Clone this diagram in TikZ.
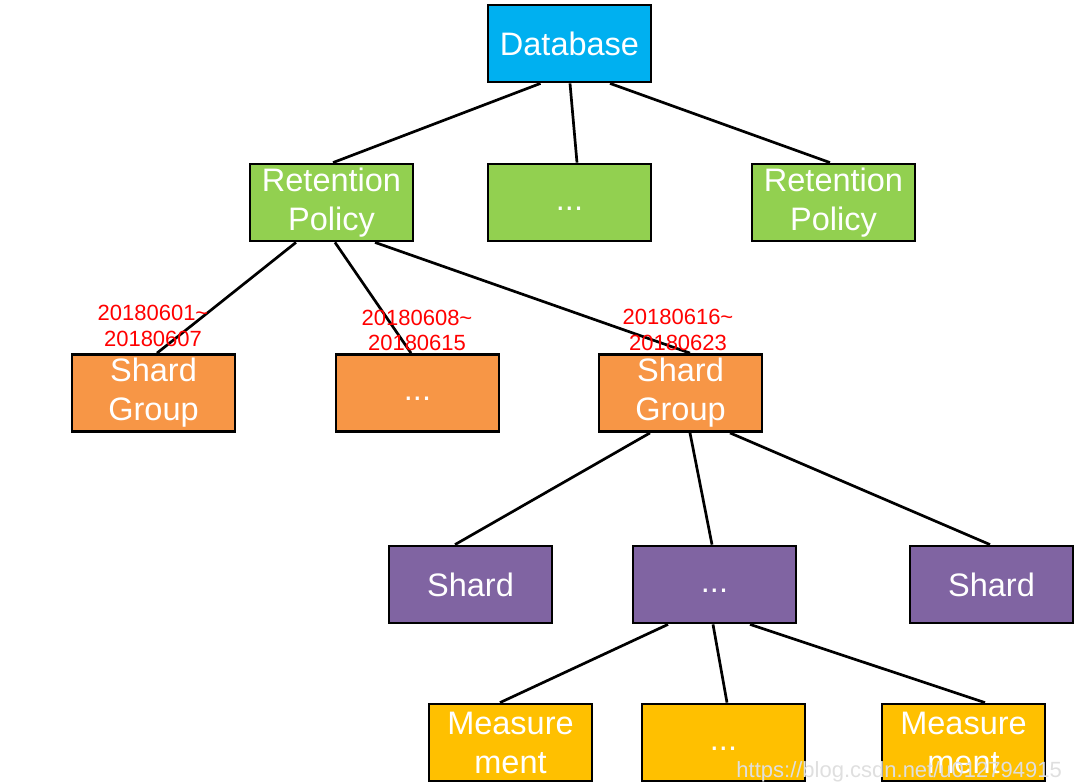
\documentclass[tikz,border=0pt]{standalone}
\usepackage{fontspec}
\setmainfont{Liberation Sans}
\usetikzlibrary{calc}
\definecolor{cdb}{HTML}{00B0F0}
\definecolor{cgreen}{HTML}{92D050}
\definecolor{corange}{HTML}{F79646}
\definecolor{cpurple}{HTML}{8064A2}
\definecolor{cyellow}{HTML}{FFC000}
\begin{document}
\begin{tikzpicture}[x=1pt,y=-1pt,
  box/.style={draw=black,line width=2.8pt,minimum width=163pt,minimum height=77pt,inner sep=0pt,
    text=white,font=\fontsize{32.5}{39}\selectfont,align=center},
  edge/.style={line width=2.7pt,black},
  lbl/.style={text=red,font=\fontsize{22}{25.5}\selectfont,align=center,inner sep=0pt}]
\useasboundingbox (0,0) rectangle (1087,784);
% nodes
\node[box,fill=cdb] (db) at (569.5,43.5) {Database};
\node[box,fill=cgreen] (rp1) at (331.5,202.5) {Retention\\Policy};
\node[box,fill=cgreen] (rpd) at (569.5,202.5) {\vphantom{Ag}...};
\node[box,fill=cgreen] (rp2) at (833.5,202.5) {Retention\\Policy};
\node[box,fill=corange] (sg1) at (153.5,393) {Shard\\Group};
\node[box,fill=corange] (sgd) at (417.5,393) {\vphantom{Ag}...};
\node[box,fill=corange] (sg2) at (680.5,393) {Shard\\Group};
\node[box,fill=cpurple] (s1) at (470.5,584.5) {Shard};
\node[box,fill=cpurple] (sd) at (714.5,584.5) {\vphantom{Ag}...};
\node[box,fill=cpurple] (s2) at (991.5,584.5) {Shard};
\node[box,fill=cyellow] (m1) at (510.5,742.5) {Measure\\ment};
\node[box,fill=cyellow] (md) at (723.5,742.5) {\vphantom{Ag}...};
\node[box,fill=cyellow] (m2) at (963.5,742.5) {Measure\\ment};
% edges
\draw[edge] ($(db.south)+(-29,0)$) -- ($(rp1.north)+(1.5,0)$);
\draw[edge] ($(db.south)+(0.5,0)$) -- ($(rpd.north)+(7.5,0)$);
\draw[edge] ($(db.south)+(40.5,0)$) -- ($(rp2.north)+(-3.5,0)$);
\draw[edge] ($(rp1.south)+(-35.5,0)$) -- ($(sg1.north)+(3.5,0)$);
\draw[edge] ($(rp1.south)+(3.5,0)$) -- ($(sgd.north)+(-6.5,0)$);
\draw[edge] ($(rp1.south)+(43.5,0)$) -- ($(sg2.north)+(9.5,0)$);
\draw[edge] ($(sg2.south)+(-30.5,0)$) -- ($(s1.north)+(-15.5,0)$);
\draw[edge] ($(sg2.south)+(9.5,0)$) -- ($(sd.north)+(-2.5,0)$);
\draw[edge] ($(sg2.south)+(49.5,0)$) -- ($(s2.north)+(-1.5,0)$);
\draw[edge] ($(sd.south)+(-46.5,0)$) -- ($(m1.north)+(-10.5,0)$);
\draw[edge] ($(sd.south)+(-1.5,0)$) -- ($(md.north)+(3.5,0)$);
\draw[edge] ($(sd.south)+(35.5,0)$) -- ($(m2.north)+(21.5,0)$);
% date labels
\node[lbl] (l1) at (153,326) {20180601\textasciitilde\\20180607};
\node[lbl] (l2) at (417,330.5) {20180608\textasciitilde\\20180615};
\node[lbl] (l3) at (678,330) {20180616\textasciitilde\\20180623};
% watermark
\node[text=gray!25,font=\fontsize{22}{24}\selectfont,inner sep=0pt,anchor=east] (wm) at (1062,772) {https://blog.csdn.net/u012794915};
\end{tikzpicture}
\end{document}
